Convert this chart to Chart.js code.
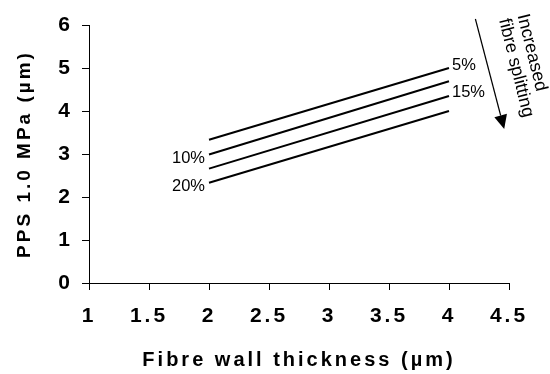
<!DOCTYPE html>
<html>
<head>
<meta charset="utf-8">
<script src="https://cdn.jsdelivr.net/npm/chart.js@4"></script>
<style>
  html, body { margin: 0; padding: 0; background: #fff; }
  canvas { display: block; }
</style>
</head>
<body>
<canvas id="chart" width="550" height="374"></canvas>
<script>
// values
var thickness = [2, 4];
var splitting = ['5%', '10%', '15%', '20%'];
var pps5 = [3.33, 5.0];
var pps10 = [2.99, 4.69];
var pps15 = [2.66, 4.35];
var pps20 = [2.33, 4.0];
var labelAt = ['end', 'start', 'end', 'start'];

// arrow note, in data units
var arrowFrom = [4.22, 6.14];
var arrowTo = [4.46, 3.58];
var noteAt = [4.61, 6.25];
var noteLines = ['Increased', 'fibre splitting'];

var FONT = '"Liberation Sans", Arial, sans-serif';

function points(ys) {
    return thickness.map(function(x, i) { return {x: x, y: ys[i]}; });
}

var series = [pps5, pps10, pps15, pps20];

var spacing = {
    id: 'spacing',
    beforeDraw: function(chart) {
        chart.ctx.letterSpacing = '3px';
    }
};

var notes = {
    id: 'notes',
    afterDraw: function(chart) {
        var ctx = chart.ctx, xs = chart.scales.x, ys = chart.scales.y;
        ctx.save();
        ctx.letterSpacing = '0px';
        ctx.fillStyle = '#000';
        ctx.strokeStyle = '#000';
        ctx.font = '16.5px ' + FONT;
        ctx.textBaseline = 'middle';

        // series labels
        chart.data.datasets.forEach(function(ds, i) {
            var p;
            if (labelAt[i] === 'end') {
                p = ds.data[ds.data.length - 1];
                ctx.textAlign = 'left';
                ctx.fillText(splitting[i], xs.getPixelForValue(p.x) + 3, ys.getPixelForValue(p.y) - 3);
            } else {
                p = ds.data[0];
                ctx.textAlign = 'right';
                ctx.fillText(splitting[i], xs.getPixelForValue(p.x) - 4, ys.getPixelForValue(p.y) + 4);
            }
        });

        // arrow
        var x0 = xs.getPixelForValue(arrowFrom[0]), y0 = ys.getPixelForValue(arrowFrom[1]);
        var x1 = xs.getPixelForValue(arrowTo[0]), y1 = ys.getPixelForValue(arrowTo[1]);
        var dx = x1 - x0, dy = y1 - y0, len = Math.sqrt(dx * dx + dy * dy);
        var ux = dx / len, uy = dy / len;
        var bx = x1 - ux * 14, by = y1 - uy * 14;
        ctx.lineWidth = 1.2;
        ctx.beginPath();
        ctx.moveTo(x0, y0);
        ctx.lineTo(bx, by);
        ctx.stroke();
        ctx.beginPath();
        ctx.moveTo(x1, y1);
        ctx.lineTo(bx - uy * 6.5, by + ux * 6.5);
        ctx.lineTo(bx + uy * 6.5, by - ux * 6.5);
        ctx.closePath();
        ctx.fill();

        // rotated note
        ctx.translate(xs.getPixelForValue(noteAt[0]), ys.getPixelForValue(noteAt[1]));
        ctx.rotate(76 * Math.PI / 180);
        ctx.font = '18px ' + FONT;
        ctx.textAlign = 'left';
        noteLines.forEach(function(t, i) {
            ctx.fillText(t, 0, i * 19);
        });
        ctx.restore();
    }
};

var ctx = document.getElementById('chart').getContext('2d');

var chart = new Chart(ctx, {
    type: 'line',
    data: {
        datasets: series.map(function(s, i) {
            return {
                label: splitting[i],
                data: points(s),
                borderColor: '#000',
                borderWidth: 2,
                pointRadius: 0,
                tension: 0,
                fill: false
            };
        })
    },
    options: {
        responsive: false,
        animation: false,
        layout: { padding: { top: 25, right: 41, left: 0, bottom: 0 } },
        plugins: {
            legend: { display: false },
            tooltip: { enabled: false }
        },
        scales: {
            x: {
                type: 'linear',
                min: 1,
                max: 4.5,
                afterFit: function(s) { s.height = 91; },
                ticks: {
                    stepSize: 0.5,
                    color: '#000',
                    padding: 14,
                    maxRotation: 0,
                    callback: function(v) { return String(v); },
                    font: { family: FONT, size: 21, weight: 'bold' }
                },
                grid: { drawOnChartArea: false, drawTicks: true, tickLength: 7, color: '#000' },
                border: { display: true, color: '#000', width: 1 },
                title: {
                    display: true,
                    text: 'Fibre wall thickness (µm)',
                    color: '#000',
                    padding: { top: 0, bottom: 2 },
                    font: { family: FONT, size: 20, weight: 'bold' }
                }
            },
            y: {
                min: 0,
                max: 6,
                afterFit: function(s) { s.width = 89; },
                ticks: {
                    stepSize: 1,
                    color: '#000',
                    padding: 9,
                    font: { family: FONT, size: 21, weight: 'bold' }
                },
                grid: { drawOnChartArea: false, drawTicks: true, tickLength: 7, color: '#000' },
                border: { display: true, color: '#000', width: 1 },
                title: {
                    display: true,
                    text: 'PPS 1.0 MPa (µm)',
                    color: '#000',
                    padding: { top: 13, bottom: 0 },
                    font: { family: FONT, size: 19, weight: 'bold' }
                }
            }
        }
    },
    plugins: [spacing, notes]
});
</script>
</body>
</html>
